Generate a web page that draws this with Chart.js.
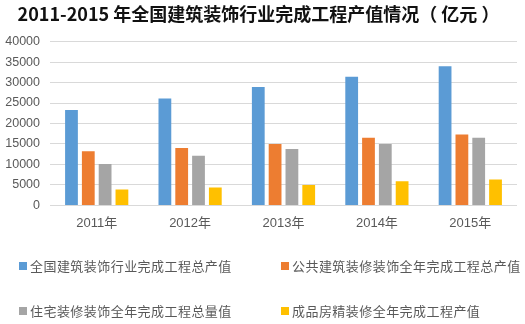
<!DOCTYPE html>
<html>
<head>
<meta charset="utf-8">
<script src="https://cdn.jsdelivr.net/npm/chart.js@4/dist/chart.umd.min.js"></script>
<style>
  html, body { margin: 0; padding: 0; background: #fff; }
  #wrap { position: relative; width: 525px; height: 324px; overflow: hidden; }
  #c { position: absolute; left: 0; top: 0; }
  .lg { position: absolute; display: flex; align-items: center; font-family: "Noto Sans CJK SC", sans-serif; font-size: 13px; letter-spacing: 0.45px; color: #595959; white-space: nowrap; line-height: 16px; }
  .lg i { display: inline-block; width: 8px; height: 8px; margin-right: 3px; }
</style>
</head>
<body>
<div id="wrap">
  <canvas id="c" width="525" height="324"></canvas>
</div>
<script>
const titleText = "2011-2015 年全国建筑装饰行业完成工程产值情况（ 亿元 ）";
const categories = ["2011年", "2012年", "2013年", "2014年", "2015年"];
const seriesNames = [
  "全国建筑装饰行业完成工程总产值",
  "公共建筑装修装饰全年完成工程总产值",
  "住宅装修装饰全年完成工程总量值",
  "成品房精装修全年完成工程产值"
];
const totalOutput = [23300, 26100, 28900, 31400, 34000];
const publicOutput = [13200, 14000, 15000, 16500, 17300];
const residentialOutput = [10100, 12100, 13800, 15000, 16500];
const finishedHousing = [3900, 4400, 5000, 5900, 6300];
const colors = ["#5B9BD5", "#ED7D31", "#A5A5A5", "#FFC000"];
const yTicks = [0, 5000, 10000, 15000, 20000, 25000, 30000, 35000, 40000];

const seriesValues = [totalOutput, publicOutput, residentialOutput, finishedHousing];

new Chart(document.getElementById("c"), {
  type: "bar",
  data: {
    labels: categories,
    datasets: seriesNames.map((n, i) => ({
      label: n,
      data: seriesValues[i],
      backgroundColor: colors[i],
      borderWidth: 0,
      categoryPercentage: 0.72,
      barPercentage: 0.76
    }))
  },
  options: {
    responsive: false,
    animation: false,
    devicePixelRatio: 1,
    layout: { padding: { left: 0, right: 8, top: 0, bottom: 83 } },
    plugins: {
      legend: { display: false },
      tooltip: { enabled: false },
      title: {
        display: true,
        text: titleText,
        color: "#111",
        font: { family: "'Noto Sans CJK SC', sans-serif", size: 18, weight: "bold" },
        padding: { top: 3, bottom: 17 }
      }
    },
    scales: {
      x: {
        grid: { display: false, drawTicks: false },
        border: { display: false },
        ticks: { color: "#595959", padding: 10, font: { family: "'Liberation Sans', 'Noto Sans CJK SC', sans-serif", size: 13 } }
      },
      y: {
        min: 0, max: 40000,
        afterBuildTicks: s => { s.ticks = yTicks.map(v => ({ value: v })); },
        afterFit: s => { s.width = 50; },
        grid: { color: "#D9D9D9", lineWidth: 1, drawTicks: false },
        border: { display: false },
        ticks: {
          color: "#595959", padding: 10,
          font: { family: "'Liberation Sans', sans-serif", size: 12.5 },
          callback: v => String(v)
        }
      }
    }
  }
});

const wrap = document.getElementById("wrap");
const legendPos = [[19, 258], [281, 258], [19, 303], [281, 303]];
seriesNames.forEach((n, i) => {
  const d = document.createElement("div");
  d.className = "lg";
  d.style.left = legendPos[i][0] + "px";
  d.style.top = legendPos[i][1] + "px";
  d.innerHTML = '<i style="background:' + colors[i] + '"></i>';
  d.appendChild(document.createTextNode(n));
  wrap.appendChild(d);
});
</script>
</body>
</html>
